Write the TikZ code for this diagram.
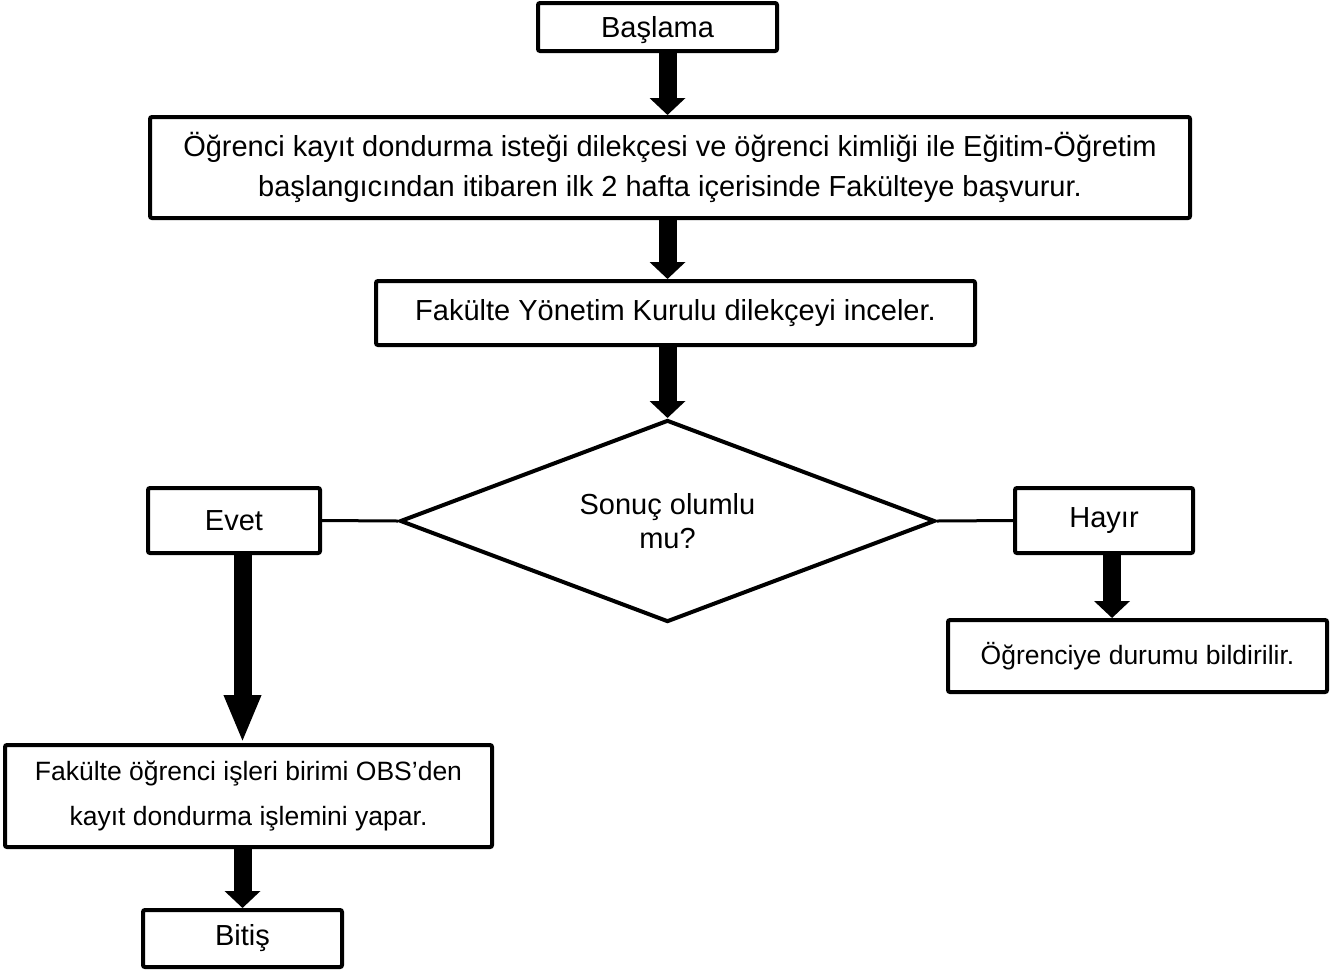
\documentclass[tikz,border=0pt]{standalone}
\usepackage{fontspec}
\setmainfont{Liberation Sans}
\usetikzlibrary{arrows.meta,shapes.geometric}

\tikzset{
	box/.style={draw, line width=2pt, rounded corners=1pt, inner sep=0pt, align=center, font=\fontsize{14.5}{20}\selectfont},
	smallbox/.style={box, font=\fontsize{13.25}{22.5}\selectfont},
	decision/.style={diamond, shape aspect=2.65, draw, line width=2pt, inner sep=0pt, align=center, font=\fontsize{14.5}{17}\selectfont},
	blockarrow/.style={line width=9pt, -{Triangle[length=8.5pt,width=17.5pt]}},
	longhead/.style={line width=9pt, -{Triangle[length=24pt,width=17pt]}},
	link/.style={line width=1.5pt}
}

\begin{document}
\begin{tikzpicture}[x=0.5pt, y=-0.5pt]
		%%%%% START %%%%%
		\useasboundingbox (0, 0) rectangle (1336, 969);
		
		\node[box, minimum width=119.5pt, minimum height=24pt, text depth=0pt] (start) at (657.5, 27) {Başlama};
		\node[box, minimum width=520pt, minimum height=50.5pt] (apply) at (670, 167.5) {Öğrenci kayıt dondurma isteği dilekçesi ve öğrenci kimliği ile Eğitim-Öğretim\\başlangıcından itibaren ilk 2 hafta içerisinde Fakülteye başvurur.};
		\node[box, minimum width=299.5pt, minimum height=32pt] (review) at (675.5, 313) {Fakülte Yönetim Kurulu dilekçeyi inceler.};
		\node[decision, minimum width=267.5pt, minimum height=101pt] (dec) at (667.5, 521) {Sonuç olumlu\\mu?};
		
		\node[box, minimum width=86pt, minimum height=32.5pt] (yes) at (234, 520.5) {Evet};
		\node[box, minimum width=89pt, minimum height=32.5pt] (no) at (1104, 520.5) {Hayır};
		\node[smallbox, minimum width=189.5pt, minimum height=36pt] (notify) at (1137.5, 656) {Öğrenciye durumu bildirilir.};
		\node[smallbox, minimum width=243.5pt, minimum height=51pt] (record) at (248.5, 796) {Fakülte öğrenci işleri birimi OBS’den\\kayıt dondurma işlemini yapar.};
		\node[box, minimum width=99.5pt, minimum height=28.5pt] (end) at (242.5, 938.5) {Bitiş};
		
		\draw[blockarrow] (start.south -| dec.north) -- (apply.north -| dec.north);
		\draw[blockarrow] (apply.south -| dec.north) -- (review.north -| dec.north);
		\draw[blockarrow] (review.south -| dec.north) -- (dec.north);
		
		\draw[link] (yes.east) -- (dec.west);
		\draw[link] (dec.east) -- (no.west);
		
		\draw[longhead] (yes.south -| end.north) -- (record.north -| end.north);
		\draw[blockarrow] (record.south -| end.north) -- (end.north);
		
		\coordinate (hayirx) at ([xshift=4pt]no.south);
		\draw[blockarrow] (hayirx) -- (hayirx |- notify.north);
		%%%%% END %%%%%
\end{tikzpicture}
\end{document}
